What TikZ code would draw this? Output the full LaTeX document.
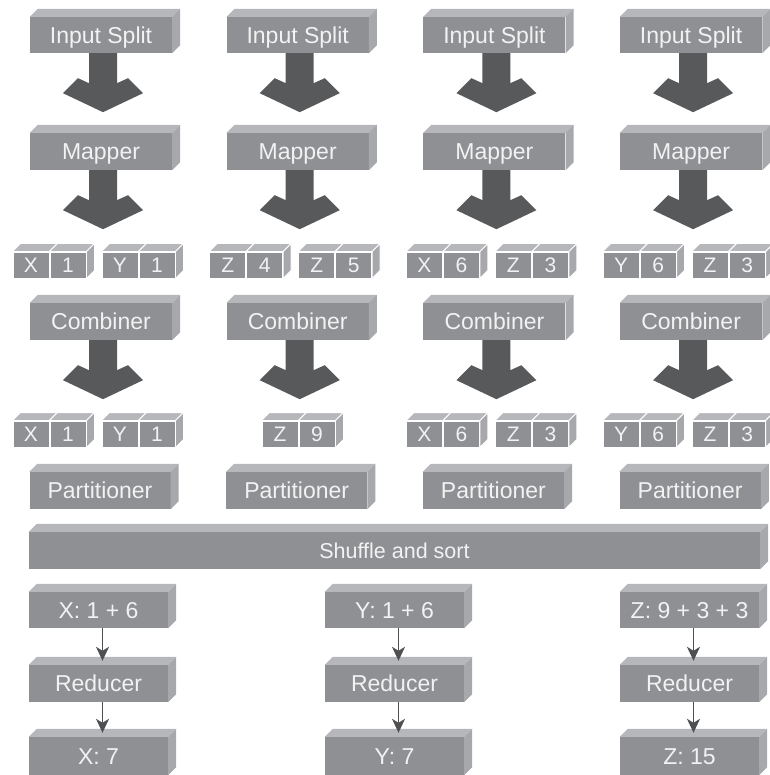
\documentclass[tikz,border=0pt]{standalone}
\usepackage{fontspec}
\setmainfont{Liberation Sans}
\usetikzlibrary{arrows.meta}

\definecolor{frontc}{HTML}{8F9094}
\definecolor{topc}{HTML}{B6B7BA}
\definecolor{sidec}{HTML}{A7A8AB}
\definecolor{arrowc}{HTML}{58595B}
\definecolor{linec}{HTML}{4F5052}
\definecolor{textc}{HTML}{F2F2F2}

\def\dep{8}

\tikzset{
  face/.style={fill=frontc, inner sep=0pt, text=textc,
    text height=16.5pt, text depth=0pt, font=\fontsize{23}{27}\selectfont},
  plainface/.style={},
  cellface/.style={draw=white, line width=0.9pt, text height=15pt,
    font=\fontsize{21}{25}\selectfont},
  flowline/.style={draw=linec, line width=1.5pt,
    -{Stealth[length=14pt,width=13pt,inset=4pt]}},
}

% a block seen in perspective: front face as a node, top and right faces drawn from its anchors
% #1 extra style, #2 name, #3 x, #4 y, #5 width, #6 height, #7 text
\newcommand\solidblock[7]{%
  \node[face,#1,minimum width=#5pt,minimum height=#6pt] (#2) at (#3,#4) {#7};
  \path[fill=topc,#1] (#2.north west) -- ++(\dep,-\dep)
    -- ([shift={(\dep,-\dep)}]#2.north east) -- (#2.north east) -- cycle;
  \path[fill=sidec,#1] (#2.north east) -- ++(\dep,-\dep)
    -- ([shift={(\dep,-\dep)}]#2.south east) -- (#2.south east) -- cycle;
}

% broad block arrow hanging below a node
\newcommand\blockarrow[1]{%
  \begin{scope}[shift={([xshift=2pt]#1.south)}]
    \fill[arrowc] (-14,0) -- (-14,30) -- (-25,25) -- (-40,40) -- (0,59)
      -- (40,40) -- (25,25) -- (14,30) -- (14,0) -- cycle;
  \end{scope}
}

% key/value pair of cells; #1 name, #2 left x, #3 y, #4 key, #5 value
\newcommand\kvpair[5]{%
  \solidblock{cellface}{#1k}{#2+18}{#3}{36}{26}{#4}
  \solidblock{cellface}{#1v}{#2+55}{#3}{36}{26}{#5}
}

\begin{document}
\begin{tikzpicture}[x=1pt,y=-1pt]
  \useasboundingbox (0,0) rectangle (769,775);

  % map side, one column per input split
  \foreach \c/\ka/\va/\kb/\vb/\kc/\vc/\kd/\vd in
      {0/X/1/Y/1/X/1/Y/1, 1/Z/4/Z/5/Z/9//, 2/X/6/Z/3/X/6/Z/3, 3/Y/6/Z/3/Y/6/Z/3} {
    \pgfmathsetmacro\xo{\c*196.7}
    \solidblock{plainface}{in\c}{\xo+101}{35}{142}{36}{Input Split}
    \blockarrow{in\c}
    \solidblock{plainface}{map\c}{\xo+101}{151.5}{142}{37}{Mapper}
    \blockarrow{map\c}
    \kvpair{ma\c}{\xo+13}{265}{\ka}{\va}
    \kvpair{mb\c}{\xo+102}{265}{\kb}{\vb}
    \solidblock{plainface}{comb\c}{\xo+101}{321.5}{142}{37}{Combiner}
    \blockarrow{comb\c}
    \ifnum\c=1
      \kvpair{ca\c}{\xo+65.3}{434}{\kc}{\vc}
    \else
      \kvpair{ca\c}{\xo+13}{434}{\kc}{\vc}
      \kvpair{cb\c}{\xo+102}{434}{\kd}{\vd}
    \fi
    \solidblock{plainface}{part\c}{\xo+100}{490.5}{141}{37}{Partitioner}
  }

  % shuffle stage
  \solidblock{plainface}{shuffle}{394.5}{550.5}{731}{37}{\fontsize{21.5}{25}\selectfont Shuffle and sort}

  % reduce side
  \foreach \r/\xr/\inp/\outp in {0/98.5/{X: 1 + 6}/{X: 7}, 1/394.5/{Y: 1 + 6}/{Y: 7}, 2/689.5/{Z: 9 + 3 + 3}/{Z: 15}} {
    \solidblock{plainface}{sum\r}{\xr}{610}{139}{36}{\inp}
    \solidblock{plainface}{red\r}{\xr}{683.5}{139}{37}{Reducer}
    \solidblock{plainface}{res\r}{\xr}{756}{139}{38}{\outp}
    \draw[flowline] ([xshift=4pt]sum\r.south) -- ([shift={(4,-4)}]red\r.north);
    \draw[flowline] ([xshift=4pt]red\r.south) -- ([shift={(4,-4)}]res\r.north);
  }
\end{tikzpicture}
\end{document}
